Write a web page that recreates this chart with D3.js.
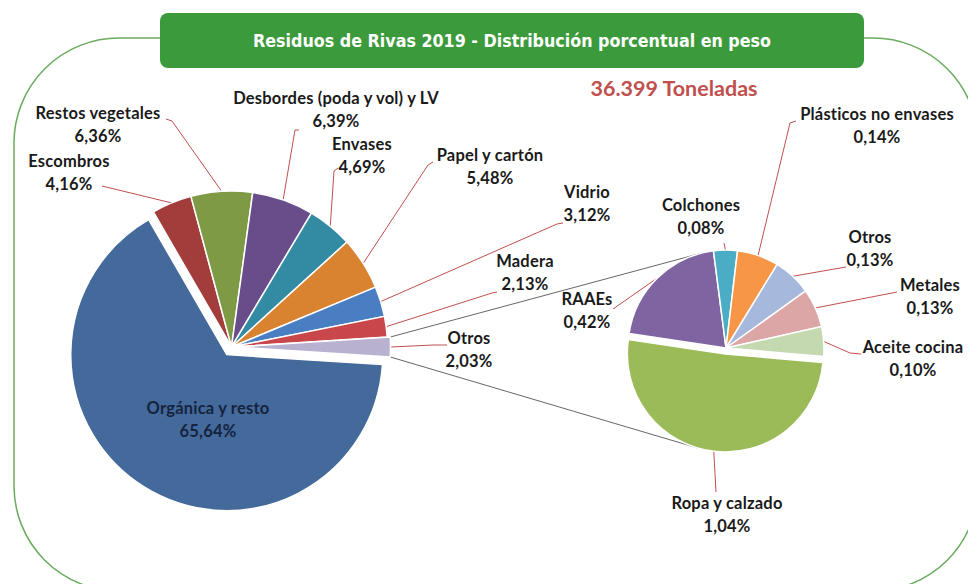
<!DOCTYPE html>
<html>
<head>
<meta charset="utf-8">
<script src="https://cdn.jsdelivr.net/npm/d3@7"></script>
<style>
  body { margin: 0; background: #fff; }
  text { font-family: Lato, "Open Sans", sans-serif; font-weight: bold; }
</style>
</head>
<body>
<svg id="chart"></svg>
<script>
const title = 'Residuos de Rivas 2019 - Distribución porcentual en peso';
const totalTons = 36399;

const mainNames = ['Orgánica y resto', 'Escombros', 'Restos vegetales', 'Desbordes (poda y vol) y LV',
    'Envases', 'Papel y cartón', 'Vidrio', 'Madera', 'Otros'];
const mainValues = [65.64, 4.16, 6.36, 6.39, 4.69, 5.48, 3.12, 2.13, 2.03];

const subNames = ['Ropa y calzado', 'RAAEs', 'Colchones', 'Plásticos no envases', 'Otros', 'Metales', 'Aceite cocina'];
const subValues = [1.04, 0.42, 0.08, 0.14, 0.13, 0.13, 0.10];

const mainColors = ['#44699b', '#a33d3b', '#7f9a45', '#684d8a', '#338ba3', '#d9822f', '#4a7ec2', '#c9474a', '#b9b1d0'];
const subColors = ['#9bbb59', '#8064a2', '#4bacc6', '#f79646', '#a6b9dd', '#dba6a5', '#c5d9b0'];

// layout: label centre of first line, leader elbow and end
const mainLabelPos = [[208, 410], [69, 163], [98, 115], [336, 100], [362, 146], [490, 157], [587, 194], [525, 263], [469, 340]];
const mainLeaders = [null, [102, 186, 102, 186], [172, 121, 166, 119], [295, 130, 299, 130], [334, 171, 338, 168],
    [428, 165, 433, 162], [557, 224, 563, 223], [492, 293, 497, 292], [433, 345, 447, 345]];
const subLabelPos = [[727, 505], [587, 301], [701, 207], [877, 116], [870, 239], [930, 287], [913, 349]];
const subLeaders = [[716, 492, 716, 492], [613, 309, 613, 309], [724, 243, 724, 243], [790, 123, 796, 121],
    [846, 267, 846, 267], [892, 293, 897, 292], [850, 353, 861, 354]];
const mainExplode = [9, 0, 0, 0, 0, 0, 0, 0, 3];
const subExplode = [6, 0, 0, 0, 0, 0, 0];

const W = 968, H = 584;
const mainC = [231.5, 347], mainR = 156;
const subC = [726, 348], subR = 98;
const lineGap = 23;

const loc = d3.formatLocale({ decimal: ',', thousands: '.', grouping: [3], currency: ['', ' €'] });
const pct = (v) => loc.format('.2f')(v) + '%';

const svg = d3.select('#chart').attr('width', W).attr('height', H);

// outer frame
svg.append('rect')
    .attr('x', 14).attr('y', 38).attr('width', 964).attr('height', 553)
    .attr('rx', 105).attr('ry', 105)
    .attr('fill', 'none').attr('stroke', '#6aab5e').attr('stroke-width', 1.5);

// title box
svg.append('rect')
    .attr('x', 160).attr('y', 13).attr('width', 704).attr('height', 55)
    .attr('rx', 8).attr('fill', '#3b9a3b');
svg.append('text')
    .attr('x', 512).attr('y', 42)
    .attr('text-anchor', 'middle').attr('dominant-baseline', 'middle')
    .attr('fill', '#fff')
    .style('font-family', '"DejaVu Sans", sans-serif')
    .style('font-size', '17.5px')
    .attr('textLength', 518).attr('lengthAdjust', 'spacingAndGlyphs')
    .text(title);

svg.append('text')
    .attr('x', 674).attr('y', 90)
    .attr('text-anchor', 'middle').attr('dominant-baseline', 'middle')
    .attr('fill', '#c0504d').style('font-size', '21.5px')
    .text(loc.format(',.0f')(totalTons) + ' Toneladas');

// pies
const otherIdx = mainValues.length - 1;
const mainTotal = d3.sum(mainValues);
const mainStart = Math.PI / 2 + Math.PI * mainValues[otherIdx] / mainTotal;
const mainPie = d3.pie().sort(null).startAngle(mainStart).endAngle(mainStart + 2 * Math.PI);
const subStart = 95 * Math.PI / 180;
const subPie = d3.pie().sort(null).startAngle(subStart).endAngle(subStart + 2 * Math.PI);

const mainArcs = mainPie(mainValues);
const subArcs = subPie(subValues);

const shift = (a, off) => {
    const m = (a.startAngle + a.endAngle) / 2;
    return [Math.sin(m) * off, -Math.cos(m) * off];
};
const polar = (c, r, ang) => [c[0] + Math.sin(ang) * r, c[1] - Math.cos(ang) * r];

// connector lines (tangents to the secondary pie)
function tangent(p, c, r, side) {
    const dx = c[0] - p[0], dy = c[1] - p[1];
    const d = Math.hypot(dx, dy);
    const a = Math.atan2(dy, dx) + side * Math.asin(r / d);
    const L = Math.sqrt(d * d - r * r);
    return [p[0] + L * Math.cos(a), p[1] + L * Math.sin(a)];
}
const oArc = mainArcs[otherIdx];
const oOff = shift(oArc, mainExplode[otherIdx]);
const oC = [mainC[0] + oOff[0], mainC[1] + oOff[1]];
const pTop = polar(oC, mainR, oArc.startAngle);
const pBot = polar(oC, mainR, oArc.endAngle);
const rOff = shift(subArcs[0], subExplode[0]);
const ropaC = [subC[0] + rOff[0], subC[1] + rOff[1]];
svg.append('g').selectAll('line')
    .data([[pTop, tangent(pTop, subC, subR, -1)], [pBot, tangent(pBot, ropaC, subR, 1)]])
    .join('line')
    .attr('x1', (d) => d[0][0]).attr('y1', (d) => d[0][1])
    .attr('x2', (d) => d[1][0]).attr('y2', (d) => d[1][1])
    .attr('stroke', '#555').attr('stroke-width', 0.9);

function drawPie(arcs, center, r, colors, explode) {
    const arc = d3.arc().innerRadius(0).outerRadius(r);
    svg.append('g')
        .attr('transform', `translate(${center[0]},${center[1]})`)
        .selectAll('path')
        .data(arcs)
        .join('path')
        .attr('transform', (d, i) => `translate(${shift(d, explode[i])})`)
        .attr('d', arc)
        .attr('fill', (d, i) => colors[i])
        .attr('stroke', '#fff').attr('stroke-width', 1.5);
}

function drawLeaders(arcs, center, r, explode, leaders) {
    const line = d3.line();
    svg.append('g').selectAll('path')
        .data(arcs.map((d, i) => [d, i]).filter(([d, i]) => leaders[i]))
        .join('path')
        .attr('d', ([d, i]) => {
            const o = shift(d, explode[i]);
            const p = polar([center[0] + o[0], center[1] + o[1]], r, (d.startAngle + d.endAngle) / 2);
            const l = leaders[i];
            return line([p, [l[0], l[1]], [l[2], l[3]]]);
        })
        .attr('fill', 'none').attr('stroke', '#c0504d').attr('stroke-width', 1);
}

function drawLabels(names, values, pos, color) {
    const g = svg.append('g').selectAll('text')
        .data(names.map((n, i) => [n, values[i], pos[i]]))
        .join('text')
        .attr('text-anchor', 'middle')
        .attr('dominant-baseline', 'middle')
        .attr('fill', (d, i) => color(i))
        .style('font-size', '16.5px')
        .style('letter-spacing', '0.2px');
    g.append('tspan').attr('x', (d) => d[2][0]).attr('y', (d) => d[2][1]).text((d) => d[0]);
    g.append('tspan').attr('x', (d) => d[2][0]).attr('y', (d) => d[2][1] + lineGap).text((d) => pct(d[1]));
}

drawLeaders(mainArcs, mainC, mainR, mainExplode, mainLeaders);
drawLeaders(subArcs, subC, subR, subExplode, subLeaders);
drawPie(mainArcs, mainC, mainR, mainColors, mainExplode);
drawPie(subArcs, subC, subR, subColors, subExplode);
drawLabels(mainNames, mainValues, mainLabelPos, (i) => i === 0 ? '#16233d' : '#1a1a1a');
drawLabels(subNames, subValues, subLabelPos, () => '#1a1a1a');
</script>
</body>
</html>
